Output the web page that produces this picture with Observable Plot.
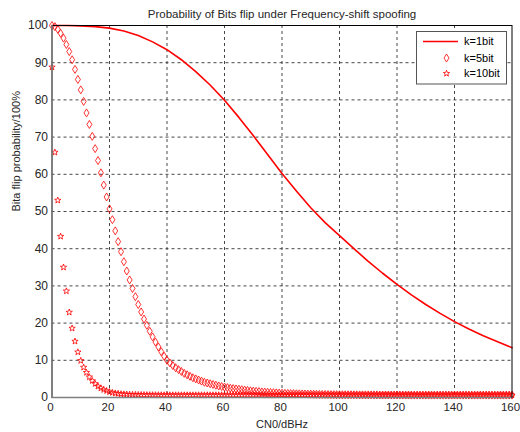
<!DOCTYPE html>
<html><head><meta charset="utf-8">
<script src="https://cdn.jsdelivr.net/npm/d3@7"></script>
<script src="https://cdn.jsdelivr.net/npm/@observablehq/plot@0.6"></script>
<style>body{margin:0;background:#fff}#chart{width:520px;height:432px}</style>
</head><body><div id="chart"></div>
<script>
const titleText = "Probability of Bits flip under Frequency-shift spoofing";
const xLabel = "CN0/dBHz";
const yLabel = "Bita flip probability/100%";
const seriesNames = ["k=1bit", "k=5bit", "k=10bit"];
const xTicks = [0, 20, 40, 60, 80, 100, 120, 140, 160];
const yTicks = [0, 10, 20, 30, 40, 50, 60, 70, 80, 90, 100];

// k=1bit (solid line)
const cn0Line = [0,5,10,15,20,25,30,35,40,45,50,55,60,65,70,75,80,85,90,95,100,105,110,115,120,125,130,135,140,145,150,155,160];
const k1 = [100,99.98,99.9,99.7,99.3,98.5,97.3,95.6,93.5,90.8,87.6,84,79.9,75.3,70.4,65.3,60.2,55.5,51,47,43.5,40,36.6,33.4,30.4,27.6,25,22.6,20.4,18.4,16.6,15,13.4];

// marker sample positions
const cn0 = [0,1,2,3,4,5,6,7,8,9,10,11,12,13,14,15,16,17,18,19,20,21,22,23,24,25,26,27,28,29,30,31,32,33,34,35,36,37,38,39,40,41,42,43,44,45,46,47,48,49,50,51,52,53,54,55,56,57,58,59,60,61,62,63,64,65,66,67,68,69,70,71,72,73,74,75,76,77,78,79,80,81,82,83,84,85,86,87,88,89,90,91,92,93,94,95,96,97,98,99,100,101,102,103,104,105,106,107,108,109,110,111,112,113,114,115,116,117,118,119,120,121,122,123,124,125,126,127,128,129,130,131,132,133,134,135,136,137,138,139,140,141,142,143,144,145,146,147,148,149,150,151,152,153,154,155,156,157,158,159,160];

// k=5bit (diamonds)
const k5 = [100,99.7,99.0,97.9,96.6,94.9,93.0,90.8,88.2,85.5,82.7,79.6,76.5,73.4,70.2,66.9,63.7,60.4,57.1,53.9,50.7,47.8,44.8,41.9,39.2,36.5,34.0,31.6,29.3,27.1,25.0,23.0,21.1,19.4,17.8,16.3,14.9,13.6,12.3,11.1,10.0,9.3,8.6,8.0,7.5,7.0,6.5,6.1,5.7,5.3,5.0,4.7,4.4,4.1,3.9,3.7,3.5,3.3,3.1,2.95,2.8,2.65,2.5,2.4,2.3,2.2,2.1,2.0,1.9,1.8,1.7,1.65,1.6,1.5,1.45,1.4,1.35,1.3,1.25,1.2,1.15,1.12,1.1,1.07,1.04,1.0,0.98,0.96,0.94,0.92,0.9,0.88,0.86,0.84,0.82,0.8,0.79,0.78,0.77,0.76,0.75,0.74,0.74,0.73,0.73,0.72,0.72,0.71,0.71,0.7,0.7,0.7,0.69,0.69,0.68,0.68,0.68,0.67,0.67,0.67,0.66,0.66,0.66,0.66,0.66,0.65,0.65,0.65,0.65,0.65,0.65,0.65,0.65,0.65,0.65,0.65,0.65,0.65,0.65,0.65,0.65,0.65,0.65,0.65,0.65,0.65,0.65,0.65,0.65,0.65,0.65,0.65,0.65,0.65,0.65,0.65,0.65,0.65,0.65,0.65,0.65];

// k=10bit (stars)
const k10 = [88.8,65.9,53.0,43.3,35.0,28.6,22.9,18.6,15.1,12.2,9.9,8.1,6.7,5.5,4.5,3.7,3.0,2.5,2.1,1.8,1.5,1.3,1.15,1.05,0.95,0.9,0.85,0.8,0.78,0.76,0.74,0.72,0.71,0.7,0.69,0.68,0.67,0.66,0.66,0.65,0.65,0.65,0.65,0.65,0.65,0.65,0.65,0.65,0.65,0.65,0.65,0.65,0.65,0.65,0.65,0.65,0.65,0.65,0.65,0.65,0.65,0.65,0.65,0.65,0.65,0.65,0.65,0.65,0.65,0.65,0.65,0.65,0.65,0.65,0.65,0.65,0.65,0.65,0.65,0.65,0.65,0.65,0.65,0.65,0.65,0.65,0.65,0.65,0.65,0.65,0.65,0.65,0.65,0.65,0.65,0.65,0.65,0.65,0.65,0.65,0.65,0.65,0.65,0.65,0.65,0.65,0.65,0.65,0.65,0.65,0.65,0.65,0.65,0.65,0.65,0.65,0.65,0.65,0.65,0.65,0.65,0.65,0.65,0.65,0.65,0.65,0.65,0.65,0.65,0.65,0.65,0.65,0.65,0.65,0.65,0.65,0.65,0.65,0.65,0.65,0.65,0.65,0.65,0.65,0.65,0.65,0.65,0.65,0.65,0.65,0.65,0.65,0.65,0.65,0.65,0.65,0.65,0.65,0.65,0.65,0.65];

const RED = "#ff0000";
const FONT = "'Liberation Sans', Arial, Helvetica, sans-serif";

const diamond = {draw(ctx) { ctx.moveTo(0, -4); ctx.lineTo(2.5, 0); ctx.lineTo(0, 4); ctx.lineTo(-2.5, 0); ctx.closePath(); }};
const star = {draw(ctx) {
  const R = 3.3, r = 1.35;
  for (let i = 0; i < 10; i++) {
    const a = -Math.PI / 2 + i * Math.PI / 5, rad = i % 2 ? r : R;
    const px = rad * Math.cos(a), py = rad * Math.sin(a);
    if (i) ctx.lineTo(px, py); else ctx.moveTo(px, py);
  }
  ctx.closePath();
}};

const lineData = cn0Line.map((x, i) => ({x, y: k1[i]}));
const d5 = cn0.map((x, i) => ({x, y: k5[i]}));
const d10 = cn0.map((x, i) => ({x, y: k10[i]}));

const svg = Plot.plot({
  width: 520, height: 432,
  marginLeft: 51.5, marginRight: 8.5, marginTop: 25, marginBottom: 35,
  style: {fontFamily: FONT, fontSize: "11px", color: "#262626", background: "#fff", overflow: "visible"},
  x: {domain: [0, 160], label: null},
  y: {domain: [0, 100], label: null},
  marks: [
    Plot.gridX(xTicks.slice(1, -1), {stroke: "#333", strokeOpacity: 0.9, strokeDasharray: "3,3"}),
    Plot.gridY(yTicks.slice(1, -1), {stroke: "#333", strokeOpacity: 0.9, strokeDasharray: "3,3"}),
    Plot.line(lineData, {x: "x", y: "y", stroke: RED, strokeWidth: 1.6}),
    Plot.dot(d5, {x: "x", y: "y", symbol: diamond, stroke: RED, fill: "none", strokeWidth: 0.8}),
    Plot.dot(d10, {x: "x", y: "y", symbol: star, stroke: RED, fill: "none", strokeWidth: 0.8}),
    Plot.frame({stroke: "#000"}),
    Plot.ruleX([0], {stroke: "#808080", strokeWidth: 1.5}),
    Plot.ruleY([0], {stroke: "#808080", strokeWidth: 1.5}),
    Plot.axisX(xTicks, {tickSize: 0, tickPadding: 5, label: null, fontSize: 11.5, dx: -1.5}),
    Plot.axisY(yTicks, {tickSize: 0, tickPadding: 4, label: null, fontSize: 12}),
    Plot.text([titleText], {frameAnchor: "top", lineAnchor: "bottom", dy: -8, fontSize: 11.5, fill: "#262626"}),
    Plot.text([xLabel], {frameAnchor: "bottom", lineAnchor: "bottom", dy: 30, fontSize: 11, fill: "#262626"}),
    Plot.text([yLabel], {frameAnchor: "left", dx: -36, rotate: -90, fontSize: 11, fill: "#262626"})
  ]
});

// legend
const lg = d3.select(svg).append("g").attr("font-family", FONT).attr("font-size", 11)
  .attr("fill", "#000").attr("text-anchor", "start");
lg.append("rect").attr("x", 416.5).attr("y", 31.5).attr("width", 90).attr("height", 52.5)
  .attr("fill", "#fff").attr("stroke", "#555").attr("stroke-width", 1);
const rows = [41.5, 58, 73.5];
lg.append("line").attr("x1", 423).attr("x2", 458).attr("y1", rows[0]).attr("y2", rows[0])
  .attr("stroke", RED).attr("stroke-width", 1.6);
lg.append("path").attr("d", d3.symbol(diamond)()).attr("transform", `translate(446.5,${rows[1]})`)
  .attr("fill", "none").attr("stroke", RED).attr("stroke-width", 0.8);
lg.append("path").attr("d", d3.symbol(star)()).attr("transform", `translate(446.5,${rows[2]})`)
  .attr("fill", "none").attr("stroke", RED).attr("stroke-width", 0.8);
seriesNames.forEach((n, i) => {
  lg.append("text").attr("x", 464).attr("y", rows[i]).attr("dy", "0.35em").attr("text-anchor", "start").text(n);
});

document.getElementById("chart").appendChild(svg);
</script>
</body></html>
